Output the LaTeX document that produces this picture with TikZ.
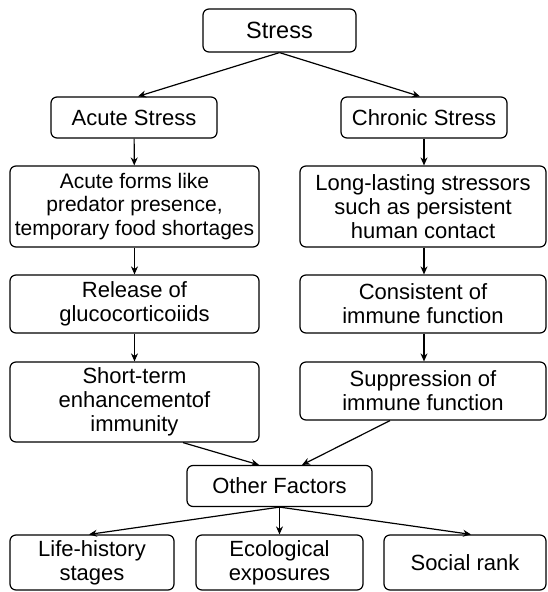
\documentclass[tikz,border=0pt]{standalone}
\usepackage{fontspec}
\setmainfont{Liberation Sans}
\usetikzlibrary{positioning,arrows.meta}
\tikzset{
  blk/.style={rectangle, rounded corners=6pt, draw=black, fill=white,
              line width=1.2pt, align=center, inner xsep=2pt, inner ysep=0pt,
              font=\fontsize{22}{23.8}\selectfont},
  ar/.style={-{Stealth[length=8pt,width=7pt]}, line width=1.2pt, draw=black},
}
\begin{document}
\begin{tikzpicture}[x=1pt, y=-1pt]
  \useasboundingbox (0,0) rectangle (547,592);
  \node[blk, minimum width=153pt, minimum height=43pt, font=\fontsize{23.5}{26}\selectfont] (stress) at (279.5,30.5) {Stress};
  \node[blk, minimum width=166pt, minimum height=41pt] (acute) at (134,117.5) {Acute Stress};
  \node[blk, minimum width=166pt, minimum height=41pt] (chronic) at (424,117.5) {Chronic Stress};
  \node[blk, minimum width=249pt, minimum height=81pt, font=\fontsize{21}{23.8}\selectfont] (forms) at (134.5,206.5) {Acute forms like\\predator presence,\\temporary food shortages};
  \node[blk, minimum width=246pt, minimum height=81pt] (lasting) at (423,206.5) {Long-lasting stressors\\such as persistent\\human contact};
  \node[blk, minimum width=249pt, minimum height=58pt] (release) at (134.5,304) {Release of\\glucocorticoiids};
  \node[blk, minimum width=246pt, minimum height=58pt] (consist) at (423,304) {Consistent of\\immune function};
  \node[blk, minimum width=249pt, minimum height=80pt] (short) at (134.5,402) {Short-term\\enhancementof\\immunity};
  \node[blk, minimum width=246pt, minimum height=58pt] (supp) at (423,391) {Suppression of\\immune function};
  \node[blk, minimum width=185pt, minimum height=41pt] (other) at (279.5,486) {Other Factors};
  \node[blk, minimum width=164pt, minimum height=55pt] (life) at (92,562.5) {Life-history\\stages};
  \node[blk, minimum width=167pt, minimum height=55pt] (eco) at (279.5,562.5) {Ecological\\exposures};
  \node[blk, minimum width=162pt, minimum height=55pt] (rank) at (465,562.5) {Social rank};

  \draw[ar] (stress.south) -- ([xshift=4pt]acute.north);
  \draw[ar] (stress.south) -- ([xshift=-4pt]chronic.north);
  \draw[ar] (acute) -- (forms);
  \draw[ar] (chronic) -- (chronic |- lasting.north);
  \draw[ar] (forms) -- (release);
  \draw[ar] (lasting.south -| chronic) -- (chronic |- consist.north);
  \draw[ar] (release) -- (short);
  \draw[ar] (consist.south -| chronic) -- (chronic |- supp.north);
  \draw[ar] ([xshift=48.5pt]short.south) -- ([xshift=-20.5pt]other.north);
  \draw[ar] ([xshift=-33pt]supp.south) -- ([xshift=22.5pt]other.north);
  \draw[ar] (other.south) -- ([xshift=-3pt]life.north);
  \draw[ar] (other.south) -- (eco.north);
  \draw[ar] (other.south) -- ([xshift=6pt]rank.north);
\end{tikzpicture}
\end{document}
